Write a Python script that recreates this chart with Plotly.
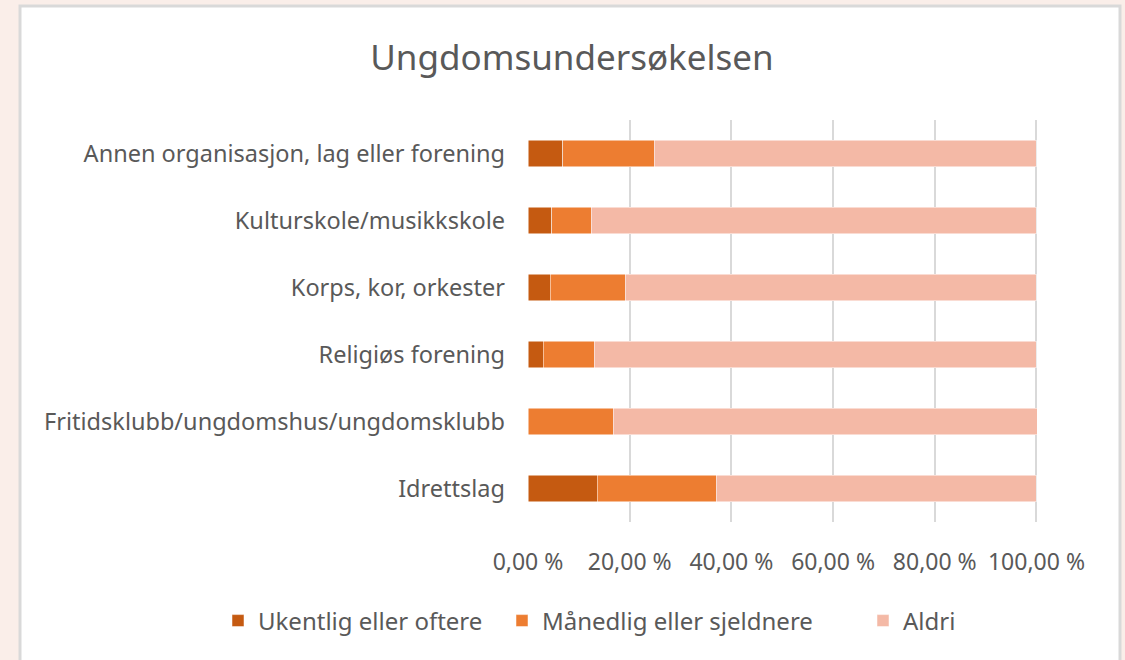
import plotly.graph_objects as go

# Data
categories = [
    "Idrettslag",
    "Fritidsklubb/ungdomshus/ungdomsklubb",
    "Religiøs forening",
    "Korps, kor, orkester",
    "Kulturskole/musikkskole",
    "Annen organisasjon, lag eller forening",
]
ukentlig = [13.6, 0.0, 3.0, 4.4, 4.7, 6.8]
maanedlig = [23.4, 16.8, 10.0, 14.7, 7.7, 18.0]
aldri = [63.0, 83.4, 87.0, 80.9, 87.6, 75.2]

series_names = ["Ukentlig eller oftere", "Månedlig eller sjeldnere", "Aldri"]
series_colors = ["#C55A11", "#ED7D31", "#F4B9A6"]

tick_vals = [0, 20, 40, 60, 80, 100]
tick_text = ["0,00 %", "20,00 %", "40,00 %", "60,00 %", "80,00 %", "100,00 %"]

FONT = "Noto Sans"
GREY = "#595959"

# plot area: x 528..1038, y 120..522 (px)
PX_L, PX_W, PX_B, PX_H = 528, 510, 522, 402

legend_ids = ["legend", "legend2", "legend3"]
legend_px = [218, 502, 863]  # left edge of each legend entry (px)

fig = go.Figure()
for name, vals, color, lid in zip(series_names, [ukentlig, maanedlig, aldri],
                                  series_colors, legend_ids):
    fig.add_trace(go.Bar(
        y=categories, x=vals, name=name, orientation="h", legend=lid,
        marker=dict(color=color, line=dict(color="white", width=0.5)),
    ))

legends = {}
for lid, px in zip(legend_ids, legend_px):
    legends[lid] = dict(orientation="h", xref="paper", x=(px - PX_L) / PX_W,
                        xanchor="left", yref="paper", y=(PX_B - 621) / PX_H,
                        yanchor="middle", font=dict(family=FONT, size=24, color=GREY),
                        bgcolor="rgba(0,0,0,0)")

fig.update_layout(
    width=1125, height=660,
    barmode="stack", bargap=0.6,
    paper_bgcolor="#FAEEE9", plot_bgcolor="white",
    margin=dict(l=PX_L, r=1125 - PX_L - PX_W, t=PX_B - PX_H, b=660 - PX_B,
                autoexpand=False),
    title=dict(text="Ungdomsundersøkelsen", x=572 / 1125, xanchor="center",
               xref="container", y=1 - 58 / 660, yanchor="middle",
               font=dict(family=FONT, size=35, color=GREY)),
    font=dict(family=FONT, size=23, color=GREY),
    showlegend=True,
    **legends,
)

fig.update_xaxes(range=[0, 100.3], tickvals=tick_vals, ticktext=tick_text,
                 showgrid=True, gridcolor="#D9D9D9", gridwidth=2,
                 zeroline=False, showline=False, ticklabelstandoff=24,
                 tickfont=dict(size=23, color=GREY), fixedrange=True)
fig.update_yaxes(showgrid=False, zeroline=False, showline=False,
                 ticklabelstandoff=22, tickfont=dict(size=23.5, color=GREY))

# white chart box with grey border
fig.add_shape(type="rect", xref="paper", yref="paper", layer="below",
              x0=(20 - PX_L) / PX_W, x1=(1120 - PX_L) / PX_W,
              y0=(PX_B - 700) / PX_H, y1=(PX_B - 6) / PX_H,
              fillcolor="white", line=dict(color="#D9D9D9", width=3))

fig.write_html("out.html", config={"displayModeBar": False},
               post_script="document.body.style.margin='0px';")
